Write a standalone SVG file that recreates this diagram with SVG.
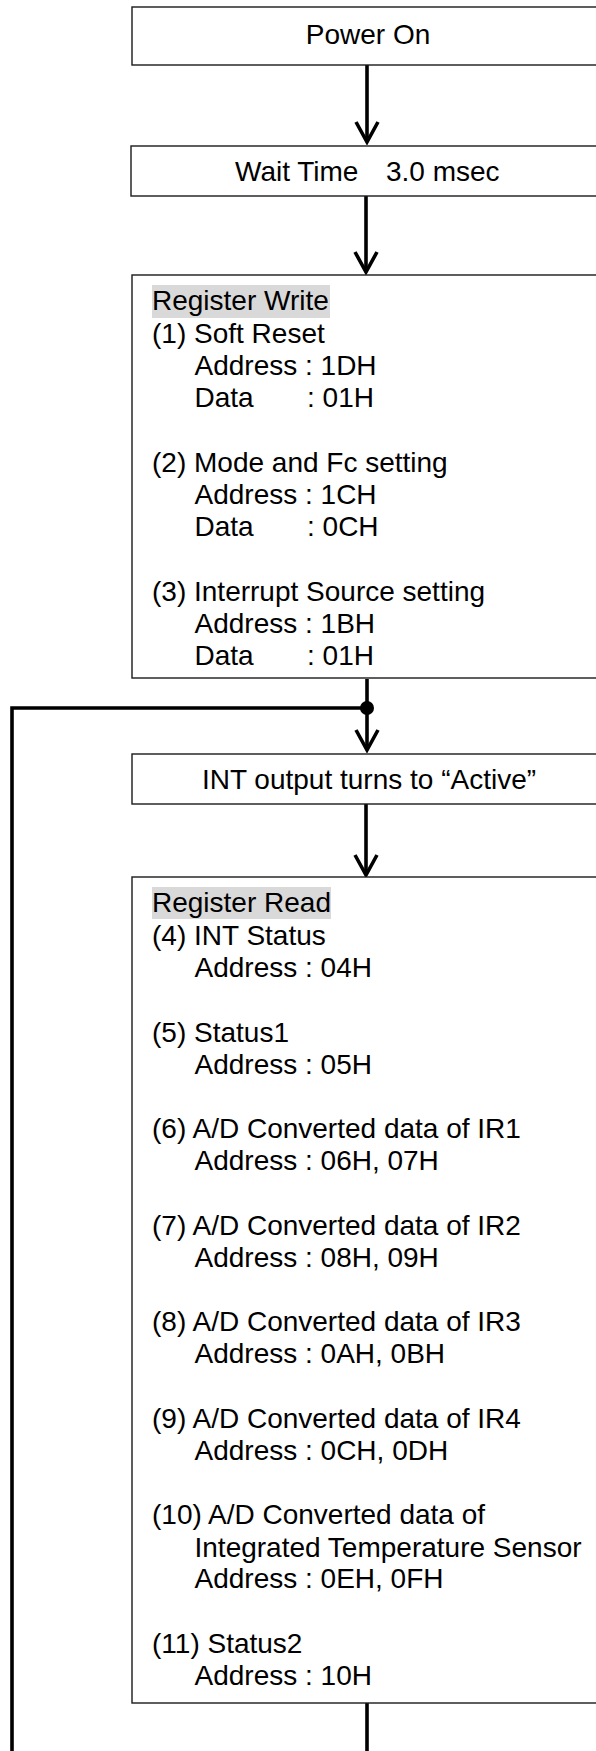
<svg xmlns="http://www.w3.org/2000/svg" width="596" height="1751" viewBox="0 0 596 1751">
<style>
.box{fill:#fff;stroke:#1a1a1a;stroke-width:1.4}
.t{font-family:"Liberation Sans",Arial,sans-serif;font-size:28px;fill:#000}
.c{text-anchor:middle}
.hl{fill:#d9d9d9}
.con{fill:none;stroke:#000;stroke-width:3.6}
</style>
<defs>
<marker id="arr" markerUnits="userSpaceOnUse" viewBox="-3 -14 26 28" refX="20" refY="0" markerWidth="26" markerHeight="28" orient="auto">
<path d="M0,-11 L20,0 L0,11" fill="none" stroke="#000" stroke-width="3.6" stroke-linejoin="miter"/>
</marker>
</defs>
<rect width="596" height="1751" fill="#fff"/>
<g id="connectors">
<path class="con" d="M367,65 V142" marker-end="url(#arr)"/>
<path class="con" d="M366,196 V272" marker-end="url(#arr)"/>
<path class="con" d="M367,679 V750" marker-end="url(#arr)"/>
<path class="con" d="M366,804 V875" marker-end="url(#arr)"/>
<path class="con" d="M367,1703 V1770 H12 V708 H367"/>
<circle cx="367" cy="708" r="7" fill="#000"/>
</g>
<g id="power-on">
<rect class="box" x="132" y="7" width="500" height="58"/>
<text class="t c" x="368" y="44">Power On</text>
</g>
<g id="wait-time">
<rect class="box" x="131" y="146" width="500" height="50"/>
<text class="t" y="181"><tspan x="235">Wait Time</tspan><tspan x="386">3.0 msec</tspan></text>
</g>
<g id="register-write">
<rect class="box" x="132" y="275" width="500" height="403"/>
<rect class="hl" x="152" y="285" width="178" height="33"/>
<text class="t" x="152" y="310">Register Write</text>
<text class="t" x="152" y="342.5">(1) Soft Reset</text>
<text class="t" x="194.5" y="375">Address : 1DH</text>
<text class="t" y="407"><tspan x="194.5">Data</tspan><tspan x="307">: 01H</tspan></text>
<text class="t" x="152" y="471.5">(2) Mode and Fc setting</text>
<text class="t" x="194.5" y="504">Address : 1CH</text>
<text class="t" y="536"><tspan x="194.5">Data</tspan><tspan x="307">: 0CH</tspan></text>
<text class="t" x="152" y="600.5">(3) Interrupt Source setting</text>
<text class="t" x="194.5" y="633">Address : 1BH</text>
<text class="t" y="665"><tspan x="194.5">Data</tspan><tspan x="307">: 01H</tspan></text>
</g>
<g id="int-active">
<rect class="box" x="132" y="754" width="500" height="50"/>
<text class="t c" x="369" y="789">INT output turns to “Active”</text>
</g>
<g id="register-read">
<rect class="box" x="132" y="877" width="500" height="826"/>
<rect class="hl" x="152" y="887" width="179" height="32"/>
<text class="t" x="152" y="912">Register Read</text>
<text class="t" x="152" y="945">(4) INT Status</text>
<text class="t" x="194.5" y="977">Address : 04H</text>
<text class="t" x="152" y="1042">(5) Status1</text>
<text class="t" x="194.5" y="1074">Address : 05H</text>
<text class="t" x="152" y="1138">(6) A/D Converted data of IR1</text>
<text class="t" x="194.5" y="1170">Address : 06H, 07H</text>
<text class="t" x="152" y="1235">(7) A/D Converted data of IR2</text>
<text class="t" x="194.5" y="1267">Address : 08H, 09H</text>
<text class="t" x="152" y="1331">(8) A/D Converted data of IR3</text>
<text class="t" x="194.5" y="1363">Address : 0AH, 0BH</text>
<text class="t" x="152" y="1428">(9) A/D Converted data of IR4</text>
<text class="t" x="194.5" y="1460">Address : 0CH, 0DH</text>
<text class="t" x="152" y="1524">(10) A/D Converted data of</text>
<text class="t" x="194.5" y="1557">Integrated Temperature Sensor</text>
<text class="t" x="194.5" y="1588">Address : 0EH, 0FH</text>
<text class="t" x="152" y="1653">(11) Status2</text>
<text class="t" x="194.5" y="1685">Address : 10H</text>
</g>
</svg>
